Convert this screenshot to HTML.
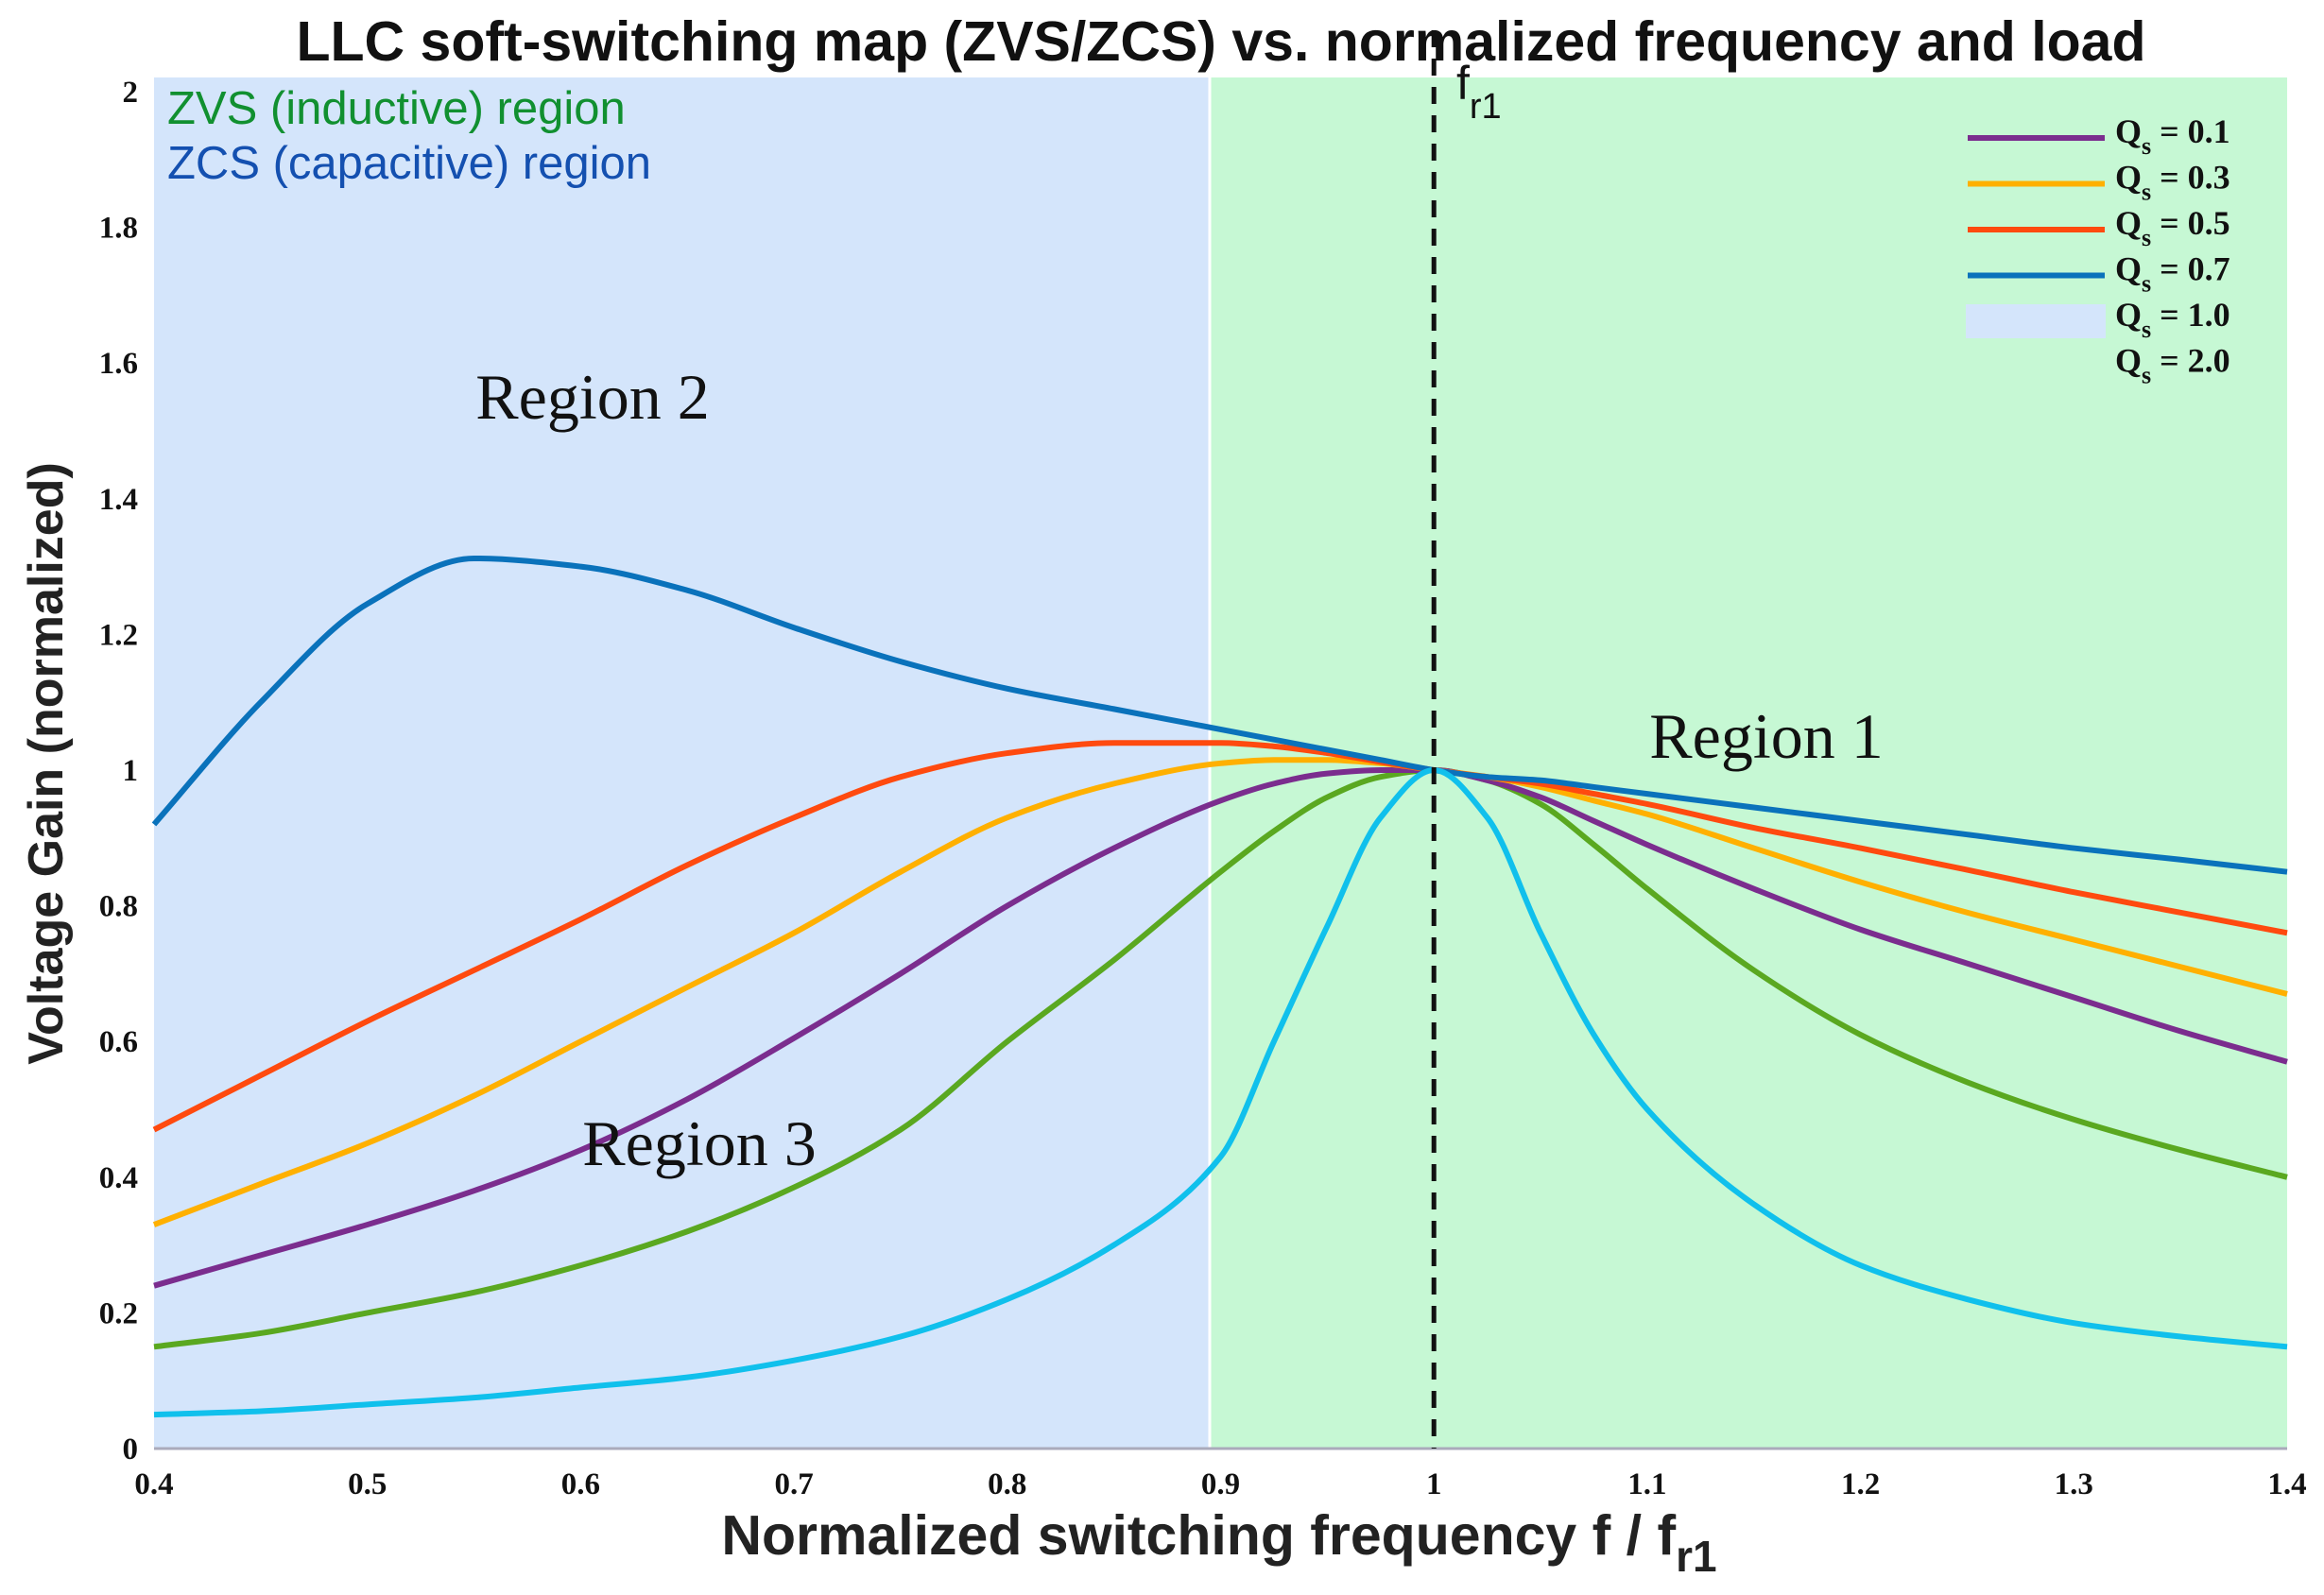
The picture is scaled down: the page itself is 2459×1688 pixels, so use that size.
<!DOCTYPE html>
<html><head><meta charset="utf-8"><style>
html,body{margin:0;padding:0;background:#fff;}
svg{display:block;}
.tick{font-family:"Liberation Serif",serif;font-weight:bold;font-size:33px;fill:#111;}
.leg{font-family:"Liberation Serif",serif;font-weight:bold;font-size:36px;fill:#111;}
.reg{font-family:"Liberation Serif",serif;font-size:68px;fill:#111;}
</style></head><body>
<svg id="chart" width="2459" height="1688" viewBox="0 0 2459 1688" xmlns="http://www.w3.org/2000/svg">
<rect x="163" y="82" width="1117" height="1451" fill="#d4e5fb"/>
<rect x="1280" y="82" width="1140" height="1451" fill="#c6f8d4"/>
<line x1="1280" y1="82" x2="1280" y2="1533" stroke="#fff" stroke-width="3"/>
<line x1="163" y1="1533" x2="2420" y2="1533" stroke="#aab" stroke-width="3"/>
<g id="curves"></g>
<g id="xticks"></g>
<g id="yticks"></g>
<text x="1292" y="64" text-anchor="middle" font-family="Liberation Sans, sans-serif" font-weight="bold" font-size="59" fill="#111">LLC soft-switching map (ZVS/ZCS) vs. normalized frequency and load</text>
<text x="1290" y="1645" text-anchor="middle" font-family="Liberation Sans, sans-serif" font-weight="bold" font-size="59" fill="#222">Normalized switching frequency  f / f<tspan font-size="46" dy="18">r1</tspan></text>
<text transform="translate(66,808) rotate(-90)" text-anchor="middle" font-family="Liberation Sans, sans-serif" font-weight="bold" font-size="52" fill="#222">Voltage Gain (normalized)</text>
<text x="177" y="131" font-family="Liberation Sans, sans-serif" font-size="49" fill="#119030">ZVS (inductive) region</text>
<text x="177" y="189" font-family="Liberation Sans, sans-serif" font-size="49" fill="#1450b0">ZCS (capacitive) region</text>
<text x="627" y="443" text-anchor="middle" class="reg">Region 2</text>
<text x="1869" y="802" text-anchor="middle" class="reg">Region 1</text>
<text x="740" y="1233" text-anchor="middle" class="reg">Region 3</text>
<text x="1541" y="105" font-family="Liberation Sans, sans-serif" font-size="50" fill="#111">f<tspan font-size="38" dy="20">r1</tspan></text>
<g id="legend"></g>
</svg>
<script>
const xs = [0.4,0.45,0.5,0.55,0.6,0.65,0.7,0.75,0.8,0.85,0.9,0.925,0.95,0.975,1.0,1.025,1.05,1.075,1.1,1.15,1.2,1.25,1.3,1.35,1.4];
const q01 = [0.24,0.285,0.33,0.38,0.44,0.515,0.605,0.7,0.8,0.885,0.955,0.98,0.995,1.0,1.0,0.985,0.96,0.925,0.89,0.825,0.765,0.715,0.665,0.615,0.57];
const q03 = [0.33,0.39,0.45,0.52,0.6,0.68,0.76,0.85,0.93,0.98,1.01,1.015,1.015,1.01,1.0,0.99,0.975,0.955,0.935,0.885,0.835,0.79,0.75,0.71,0.67];
const q05 = [0.47,0.55,0.63,0.705,0.78,0.86,0.93,0.99,1.025,1.04,1.04,1.035,1.025,1.012,1.0,0.99,0.98,0.965,0.95,0.915,0.885,0.853,0.82,0.79,0.76];
const q07 = [0.92,1.1,1.245,1.312,1.3,1.265,1.21,1.16,1.12,1.09,1.06,1.045,1.03,1.015,1.0,0.99,0.985,0.975,0.965,0.945,0.925,0.905,0.885,0.868,0.85];
const q10 = [0.15,0.17,0.2,0.23,0.27,0.32,0.385,0.47,0.6,0.72,0.85,0.91,0.96,0.99,1.0,0.985,0.95,0.89,0.825,0.705,0.61,0.54,0.485,0.44,0.4];
const q20 = [0.05,0.055,0.065,0.075,0.09,0.105,0.13,0.165,0.22,0.3,0.43,0.6,0.77,0.93,1.0,0.93,0.76,0.61,0.5,0.36,0.27,0.22,0.185,0.165,0.15];
const seriesNames = ["Qs = 0.1","Qs = 0.3","Qs = 0.5","Qs = 0.7","Qs = 1.0","Qs = 2.0"];
const xTicks = [0.4,0.5,0.6,0.7,0.8,0.9,1,1.1,1.2,1.3,1.4];
const xTickLabels = ["0.4","0.5","0.6","0.7","0.8","0.9","1","1.1","1.2","1.3","1.4"];
const yTicks = [0,0.2,0.4,0.6,0.8,1,1.2,1.4,1.6,1.8,2];
const yTickLabels = ["0","0.2","0.4","0.6","0.8","1","1.2","1.4","1.6","1.8","2"];

const NS="http://www.w3.org/2000/svg";
function X(v){return 163+(v-0.4)*2257;}
function Y(v){return 1533-v*718;}
function path(ys){
  const n=xs.length, px=xs.map(X), py=ys.map(Y);
  const d=[],m=new Array(n);
  for(let i=0;i<n-1;i++) d.push((py[i+1]-py[i])/(px[i+1]-px[i]));
  m[0]=d[0]; m[n-1]=d[n-2];
  for(let i=1;i<n-1;i++){
    if(d[i-1]*d[i]<=0) m[i]=0;
    else { const h0=px[i]-px[i-1],h1=px[i+1]-px[i],w1=2*h1+h0,w2=h1+2*h0; m[i]=(w1+w2)/(w1/d[i-1]+w2/d[i]); }
  }
  let s="M"+px[0]+","+py[0];
  for(let i=0;i<n-1;i++){
    const h=(px[i+1]-px[i])/3;
    s+=" C"+(px[i]+h)+","+(py[i]+m[i]*h)+" "+(px[i+1]-h)+","+(py[i+1]-m[i+1]*h)+" "+px[i+1]+","+py[i+1];
  }
  return s;
}
const cg=document.getElementById('curves');
const defs=[[q10,"#5aa820","curve-qs-1-0"],[q01,"#7b2d8e","curve-qs-0-1"],[q03,"#ffb000","curve-qs-0-3"],[q05,"#ff4a0f","curve-qs-0-5"],[q07,"#0a72bb","curve-qs-0-7"],[q20,"#10c0ec","curve-qs-2-0"]];
defs.forEach(([ys,c,n])=>{
  const e=document.createElementNS(NS,'path');
  e.setAttribute('d',path(ys));e.setAttribute('fill','none');e.setAttribute('stroke',c);e.setAttribute('stroke-width','6');
  
  
  cg.appendChild(e);
});
const dl=document.createElementNS(NS,'line');
dl.setAttribute('x1',X(1));dl.setAttribute('x2',X(1));dl.setAttribute('y1',32);dl.setAttribute('y2',1533);
dl.setAttribute('stroke','#111');dl.setAttribute('stroke-width','5');dl.setAttribute('stroke-dasharray','18,12');


cg.appendChild(dl);
const xg=document.getElementById('xticks');
xTicks.forEach((v,i)=>{
  const t=document.createElementNS(NS,'text');
  t.setAttribute('x',X(v));t.setAttribute('y',1581);t.setAttribute('text-anchor','middle');t.setAttribute('class','tick');
  t.textContent=xTickLabels[i];
  
  
  xg.appendChild(t);
});
const yg=document.getElementById('yticks');
yTicks.forEach((v,i)=>{
  const t=document.createElementNS(NS,'text');
  t.setAttribute('x',146);t.setAttribute('y',Y(v)+11);t.setAttribute('text-anchor','end');t.setAttribute('class','tick');
  t.textContent=yTickLabels[i];
  
  
  yg.appendChild(t);
});
const lg=document.getElementById('legend');
const lcol=["#7b2d8e","#ffb000","#ff4a0f","#0a72bb",null,null];
seriesNames.forEach((nm,i)=>{
  const y=146+i*48.5;
  if(lcol[i]){
    const l=document.createElementNS(NS,'line');
    l.setAttribute('x1',2082);l.setAttribute('x2',2227);l.setAttribute('y1',y);l.setAttribute('y2',y);
    l.setAttribute('stroke',lcol[i]);l.setAttribute('stroke-width','6');
    
    
    lg.appendChild(l);
  } else if(i===4){
    const r=document.createElementNS(NS,'rect');
    r.setAttribute('x',2080);r.setAttribute('y',y-18);r.setAttribute('width',148);r.setAttribute('height',36);r.setAttribute('fill','#d4e5fb');
    
    
    lg.appendChild(r);
  }
  const t=document.createElementNS(NS,'text');
  t.setAttribute('x',2238);t.setAttribute('y',y+5);t.setAttribute('class','leg');
  t.innerHTML='Q<tspan font-size="26" dy="12">s</tspan><tspan dy="-12"> = '+nm.split('= ')[1]+'</tspan>';
  
  
  lg.appendChild(t);
});
</script>
</body></html>
